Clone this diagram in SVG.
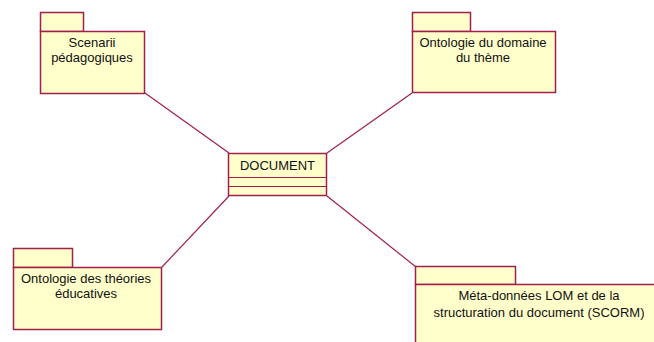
<svg xmlns="http://www.w3.org/2000/svg" width="654" height="342" viewBox="0 0 654 342">
<style>
.pk{fill:#FFFFCC;stroke:#A0204A;stroke-width:1.5}
.ln{stroke:#A0204A;stroke-width:1.2;fill:none}
text{font-family:"Liberation Sans",Arial,sans-serif;font-size:13px;fill:#111;text-anchor:middle}
</style>
<rect width="654" height="342" fill="#fff"/>
<g id="connectors">
<line class="ln" x1="145" y1="93" x2="229" y2="153"/>
<line class="ln" x1="412" y1="93" x2="327" y2="153"/>
<line class="ln" x1="162" y1="267" x2="229" y2="196"/>
<line class="ln" x1="327" y1="196" x2="416" y2="267"/>
</g>
<g id="scenarii">
<rect class="pk" x="40.5" y="12.5" width="43" height="19"/>
<rect class="pk" x="40.5" y="31.5" width="104" height="62"/>
<text x="92" y="47">Scenarii</text>
<text x="92" y="62">pédagogiques</text>
</g>
<g id="ontologie-domaine">
<rect class="pk" x="412.5" y="12.5" width="58" height="19"/>
<rect class="pk" x="412.5" y="31.5" width="143" height="61"/>
<text x="483" y="47">Ontologie du domaine</text>
<text x="483" y="62">du thème</text>
</g>
<g id="document">
<rect class="pk" x="228.5" y="153.5" width="98" height="42"/>
<line class="ln" x1="228.5" y1="177.5" x2="326.5" y2="177.5"/>
<line class="ln" x1="228.5" y1="186.5" x2="326.5" y2="186.5"/>
<text x="277.5" y="170">DOCUMENT</text>
</g>
<g id="ontologie-theories">
<rect class="pk" x="13.5" y="248.5" width="59" height="19"/>
<rect class="pk" x="13.5" y="267.5" width="148" height="62"/>
<text x="86" y="283">Ontologie des théories</text>
<text x="86" y="298">éducatives</text>
</g>
<g id="meta-donnees">
<rect class="pk" x="415.5" y="266.5" width="100" height="18"/>
<rect class="pk" x="415.5" y="284.5" width="250" height="70"/>
<text x="539" y="300">Méta-données LOM et de la</text>
<text x="539" y="317">structuration du document (SCORM)</text>
</g>
</svg>
